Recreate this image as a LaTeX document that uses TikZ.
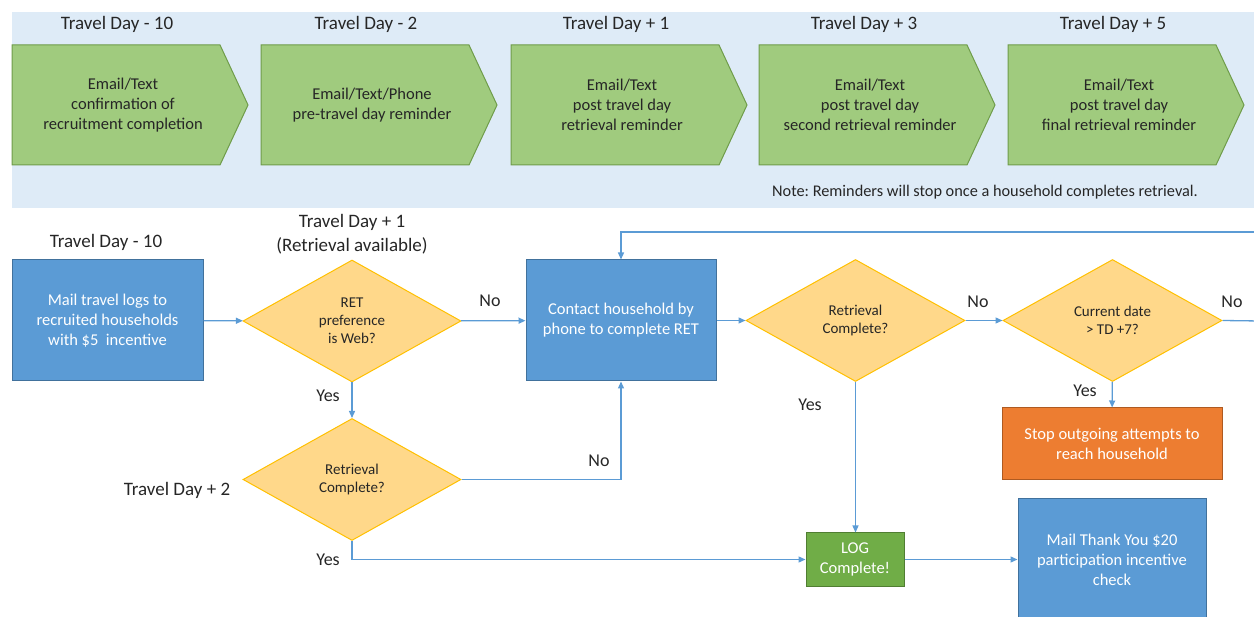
\documentclass[tikz,border=0pt]{standalone}
\usepackage{fontspec}
\setmainfont{Carlito}
\frenchspacing
\usetikzlibrary{shapes.geometric,arrows.meta,calc}
\definecolor{bgblue}{HTML}{DEEBF7}
\definecolor{chevfill}{HTML}{A0CB7E}
\definecolor{chevdraw}{HTML}{6F9C4A}
\definecolor{boxblue}{HTML}{5B9BD5}
\definecolor{boxbluedraw}{HTML}{41719C}
\definecolor{dfill}{HTML}{FFD88A}
\definecolor{ddraw}{HTML}{FFC000}
\definecolor{orfill}{HTML}{ED7D31}
\definecolor{ordraw}{HTML}{AE5A21}
\definecolor{gfill}{HTML}{70AD47}
\definecolor{gdraw}{HTML}{507E32}
\definecolor{lineblue}{HTML}{5B9BD5}
\definecolor{txt}{HTML}{262626}
\tikzset{
  lbl/.style={text=txt, font=\fontsize{19}{24}\selectfont, inner sep=0pt},
  yn/.style={text=txt, font=\fontsize{18}{22}\selectfont, inner sep=0pt},
  chevtext/.style={text=txt, align=center, font=\fontsize{16.5}{20}\selectfont, inner sep=0pt},
  chevshape/.style={fill=chevfill, draw=chevdraw, line width=1pt},
  bbox/.style={rectangle, fill=boxblue, draw=boxbluedraw, line width=1pt, text=white, align=center, font=\fontsize{16.5}{20}\selectfont, inner sep=0pt},
  obox/.style={rectangle, fill=orfill, draw=ordraw, line width=1pt, text=white, align=center, font=\fontsize{16.5}{20}\selectfont, inner sep=0pt},
  gbox/.style={rectangle, fill=gfill, draw=gdraw, line width=1pt, text=white, align=center, font=\fontsize{16.5}{20}\selectfont, inner sep=0pt},
  dia/.style={diamond, fill=dfill, draw=ddraw, line width=1pt, text=txt, align=center, font=\fontsize{15}{18}\selectfont, inner sep=0pt, minimum width=218pt, minimum height=122pt},
  conn/.style={draw=lineblue, line width=1.3pt, -{Triangle[length=7pt,width=6pt]}},
  plain/.style={draw=lineblue, line width=1.3pt},
}
\begin{document}
\begin{tikzpicture}[x=1pt,y=-1pt]
\useasboundingbox (0,0) rectangle (1254,617);
\fill[bgblue] (12,12) rectangle (1254,208);
% chevrons
\foreach \x/\n/\lab/\txt in {
  12/c1/{Travel Day - 10}/{Email/Text\\confirmation of\\recruitment completion},
  261/c2/{Travel Day - 2}/{Email/Text/Phone\\pre-travel day reminder},
  511/c3/{Travel Day + 1}/{Email/Text\\post travel day\\retrieval reminder},
  759/c4/{Travel Day + 3}/{Email/Text\\post travel day\\second retrieval reminder},
  1008/c5/{Travel Day + 5}/{Email/Text\\post travel day\\final retrieval reminder}}{
  \draw[chevshape] (\x,45) -- ++(208,0) -- ++(28,60) -- ++(-28,60) -- ++(-208,0) -- cycle;
  \node[chevtext] (\n) at (\x+111,105) {\txt};
  \node[lbl] (\n lab) at (\x+105,24) {\lab};
}
\node[chevtext, font=\fontsize{16.3}{18}\selectfont] (note) at (985,192) {Note: Reminders will stop once a household completes retrieval.};
% flowchart
\node[lbl] (l1) at (106,242) {Travel Day - 10};
\node[lbl] (l2) at (352,222) {Travel Day + 1};
\node[lbl] (l3) at (352,246) {(Retrieval available)};
\node[lbl] (l4) at (177,490) {Travel Day + 2};
\node[bbox, minimum width=191pt, minimum height=121pt] (mail) at (107.5,320.5) {Mail travel logs to\\recruited households\\with \$5\ \ incentive};
\node[dia] (web) at (352,321) {RET\\preference\\is Web?};
\node[bbox, minimum width=190pt, minimum height=121pt] (phone) at (621,320.5) {Contact household by\\phone to complete RET};
\node[dia, minimum width=219pt] (rc1) at (855.5,320.5) {Retrieval\\Complete?};
\node[dia, minimum width=219pt] (cur) at (1112.5,320.5) {Current date\\> TD +7?};
\node[obox, minimum width=220pt, minimum height=72pt] (stop) at (1112,444) {Stop outgoing attempts to\\reach household};
\node[dia] (rc2) at (352,479.5) {Retrieval\\Complete?};
\node[gbox, minimum width=98pt, minimum height=53pt] (log) at (855,559.5) {LOG\\Complete!};
\node[bbox, minimum width=188pt, minimum height=121pt] (thanks) at (1112,559.5) {Mail Thank You \$20\\participation incentive\\check};
\coordinate (loopA) at (1260,321);
\coordinate (loopB) at (1260,232);
% connectors
\draw[conn] (mail) -- (web);
\draw[conn] (web) -- (phone);
\draw[conn] (phone) -- (rc1);
\draw[conn] (rc1) -- (cur);
\draw[plain] (cur.east) -- (loopA);
\draw[conn] (loopB) -| (phone.north);
\draw[conn] (cur) -- (stop);
\draw[conn] (rc1.south) -- (rc1.south |- log.north);
\draw[conn] (log) -- (thanks);
\draw[conn] (web) -- (rc2);
\draw[conn] (rc2.east) -| (phone.south);
\draw[conn] (rc2.south) |- (log.west);
% connector labels
\node[yn] (n1) at (490,301) {No};
\node[yn] (n2) at (978,302) {No};
\node[yn] (n3) at (1232,302) {No};
\node[yn] (n4) at (599,461) {No};
\node[yn] (y1) at (328,396) {Yes};
\node[yn] (y2) at (810,405) {Yes};
\node[yn] (y3) at (1085,391) {Yes};
\node[yn] (y4) at (328,560) {Yes};
\end{tikzpicture}
\end{document}
